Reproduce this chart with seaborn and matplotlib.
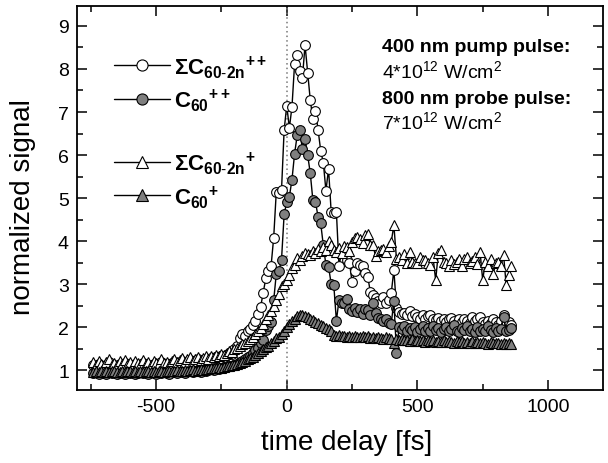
import numpy as np
import pandas as pd
import matplotlib
matplotlib.use("Agg")
import matplotlib.pyplot as plt
from matplotlib.lines import Line2D
from matplotlib.ticker import MultipleLocator
import seaborn as sns

# ---------------- data ----------------
time_fs = list(range(-740, 861, 10))

sum_dication = [  # ΣC60-2n ++ (open circles)
    1.12, 1.08, 1.15, 1.10, 1.05, 1.13, 1.18, 1.09, 1.12, 1.06,
    1.14, 1.10, 1.17, 1.08, 1.12, 1.05, 1.15, 1.11, 1.08, 1.16,
    1.10, 1.13, 1.07, 1.15, 1.12, 1.09, 1.18, 1.11, 1.14, 1.08,
    1.16, 1.20, 1.13, 1.18, 1.22, 1.15, 1.19, 1.24, 1.17, 1.21,
    1.25, 1.18, 1.22, 1.27,
    1.23, 1.28, 1.25, 1.31, 1.27, 1.33, 1.30, 1.36, 1.40, 1.38,
    1.50, 1.55, 1.75, 1.85, 1.80, 1.90, 1.96, 2.05, 2.15, 2.30,
    2.47, 2.80, 3.14, 3.30, 3.42, 4.08, 5.15, 5.12, 5.19, 6.58,
    7.15, 6.63, 7.12, 8.12, 8.33, 7.95, 7.79, 8.56, 7.91, 7.28,
    6.84, 7.03, 6.58, 6.10, 5.82, 5.17, 5.68, 4.68, 4.66, 4.68,
    3.42, 3.75, 3.72, 3.55, 3.50, 3.05, 3.30, 3.49, 3.45, 3.41,
    3.25, 3.17, 2.82, 2.75, 2.68, 2.60, 2.56, 2.71, 2.56, 2.62,
    2.79, 3.33, 2.45, 2.36, 2.30, 2.33, 2.28, 2.38, 2.25, 2.30,
    2.24, 2.20, 2.28, 2.18, 2.25, 2.28, 2.20, 2.17, 2.22, 2.15,
    2.20, 2.12, 2.18, 2.22, 2.15, 2.10, 2.18, 2.12, 2.20, 2.14,
    2.10, 2.24, 2.15, 2.18, 2.24, 2.12, 2.08, 2.15, 2.10, 2.18,
    2.12, 2.05, 2.14, 2.28, 2.08, 2.12, 2.05,
]

c60_dication = [  # C60 ++ (grey circles)
    0.93, 0.95, 0.91, 0.96, 0.94, 0.92, 0.97, 0.93, 0.95, 0.90,
    0.94, 0.96, 0.92, 0.95, 0.93, 0.97, 0.91, 0.94, 0.96, 0.93,
    0.95, 0.92, 0.97, 0.94, 0.90, 0.95, 0.93, 0.96, 0.94, 0.92,
    0.97, 0.95, 0.93, 0.98, 0.96, 0.94, 0.99, 0.97, 0.95, 1.00,
    0.98, 0.96, 1.01, 0.99,
    1.00, 1.02, 1.01, 1.04, 1.03, 1.06, 1.05, 1.08, 1.10, 1.09,
    1.13, 1.15, 1.18, 1.22, 1.25, 1.30, 1.34, 1.40, 1.46, 1.52,
    1.62, 1.70, 1.93, 2.02, 2.12, 2.62, 3.24, 3.30, 3.57, 4.62,
    4.91, 5.03, 5.43, 6.03, 6.46, 6.58, 6.13, 6.38, 6.00, 5.58,
    4.95, 4.91, 4.56, 4.41, 3.90, 3.44, 3.40, 3.01, 2.98, 2.15,
    2.63, 2.56, 2.56, 2.66, 2.43, 2.38, 2.45, 2.35, 2.42, 2.30,
    2.43, 2.40, 2.28, 2.55, 2.33, 2.22, 2.18, 2.15, 2.20, 2.10,
    2.08, 2.61, 1.41, 2.00, 1.95, 2.02, 1.90, 1.98, 1.93, 2.00,
    1.88, 1.95, 2.02, 1.92, 1.97, 1.90, 2.03, 1.93, 1.98, 1.88,
    1.96, 2.00, 1.90, 1.95, 2.05, 1.92, 1.88, 1.98, 1.93, 2.02,
    1.90, 1.95, 1.88, 2.00, 1.92, 1.96, 1.90, 2.03, 1.94, 1.88,
    1.98, 1.92, 1.95, 2.23, 1.90, 1.93, 1.99,
]

sum_cation = [  # ΣC60-2n + (open triangles)
    1.18, 1.12, 1.22, 1.15, 1.10, 1.20, 1.25, 1.13, 1.17, 1.11,
    1.21, 1.15, 1.24, 1.12, 1.18, 1.10, 1.22, 1.16, 1.13, 1.23,
    1.15, 1.19, 1.12, 1.21, 1.17, 1.14, 1.25, 1.16, 1.20, 1.13,
    1.22, 1.26, 1.18, 1.24, 1.28, 1.20, 1.25, 1.30, 1.22, 1.27,
    1.31, 1.23, 1.28, 1.33,
    1.27, 1.33, 1.30, 1.36, 1.32, 1.38, 1.35, 1.41, 1.44, 1.42,
    1.48, 1.52, 1.56, 1.60, 1.63, 1.68, 1.72, 1.78, 1.84, 1.90,
    1.98, 2.08, 2.18, 2.28, 2.38, 2.50, 2.62, 2.78, 2.95, 3.00,
    3.09, 3.22, 3.38, 3.45, 3.60, 3.55, 3.66, 3.73, 3.70, 3.68,
    3.78, 3.72, 3.82, 3.76, 3.86, 3.80, 4.00, 3.92, 3.80, 3.75,
    3.84, 3.72, 3.88, 3.86, 3.78, 3.98, 4.08, 4.10, 4.05, 3.95,
    4.14, 4.16, 3.90, 3.90, 3.65, 3.78, 3.79, 3.82, 3.74, 3.88,
    3.98, 4.37, 3.58, 3.62, 3.55, 3.70, 3.48, 3.75, 3.52, 3.48,
    3.50, 3.62, 3.55, 3.57, 3.50, 3.45, 3.62, 3.09, 3.72, 3.79,
    3.52, 3.48, 3.42, 3.55, 3.47, 3.52, 3.58, 3.43, 3.59, 3.62,
    3.48, 3.53, 3.62, 3.47, 3.75, 3.09, 3.52, 3.42, 3.58, 3.24,
    3.48, 3.52, 3.42, 3.67, 2.97, 3.22, 3.42,
]

c60_cation = [  # C60 + (grey triangles)
    0.96, 0.98, 0.95, 0.97, 0.96, 0.99, 0.95, 0.97, 0.98, 0.96,
    0.95, 0.98, 0.96, 0.97, 0.99, 0.95, 0.97, 0.96, 0.98, 0.95,
    0.97, 0.99, 0.96, 0.98, 0.95, 0.97, 0.99, 0.96, 0.98, 0.97,
    0.99, 0.97, 1.00, 0.98, 0.99, 1.01, 0.98, 1.00, 1.02, 0.99,
    1.01, 1.03, 1.00, 1.02,
    1.03, 1.05, 1.04, 1.06, 1.07, 1.06, 1.08, 1.10, 1.09, 1.11,
    1.13, 1.15, 1.17, 1.19, 1.22, 1.25, 1.28, 1.31, 1.35, 1.39,
    1.44, 1.48, 1.53, 1.57, 1.62, 1.67, 1.74, 1.78, 1.85, 1.92,
    2.00, 2.07, 2.14, 2.20, 2.25, 2.28, 2.29, 2.26, 2.23, 2.20,
    2.17, 2.13, 2.10, 2.06, 2.02, 1.99, 1.95, 1.92, 1.82, 1.80,
    1.81, 1.79, 1.80, 1.78, 1.80, 1.77, 1.79, 1.76, 1.78, 1.80,
    1.77, 1.79, 1.75, 1.77, 1.74, 1.76, 1.75, 1.73, 1.76, 1.74,
    1.72, 1.64, 1.73, 1.70, 1.72, 1.69, 1.71, 1.68, 1.72, 1.67,
    1.70, 1.68, 1.71, 1.66, 1.69, 1.67, 1.70, 1.65, 1.68, 1.66,
    1.69, 1.65, 1.68, 1.66, 1.64, 1.67, 1.65, 1.68, 1.63, 1.66,
    1.64, 1.67, 1.63, 1.65, 1.62, 1.66, 1.64, 1.61, 1.65, 1.63,
    1.62, 1.64, 1.61, 1.63, 1.60, 1.62, 1.61,
]

series_labels = [
    r'${\mathbf{\Sigma C}_{\mathbf{60}\text{-}\mathbf{2n}}}^{\mathbf{++}}$',
    r'${\mathbf{C}_{\mathbf{60}}}^{\mathbf{++}}$',
    r'${\mathbf{\Sigma C}_{\mathbf{60}\text{-}\mathbf{2n}}}^{\mathbf{+}}$',
    r'${\mathbf{C}_{\mathbf{60}}}^{\mathbf{+}}$',
]

x_ticks = [-500, 0, 500, 1000]
y_ticks = [1, 2, 3, 4, 5, 6, 7, 8, 9]

# ---------------- style ----------------
sns.set_theme(style="ticks")
plt.rcParams['font.family'] = ['Liberation Sans', 'DejaVu Sans']
plt.rcParams['mathtext.fontset'] = 'custom'
plt.rcParams['mathtext.rm'] = 'Liberation Sans'
plt.rcParams['mathtext.bf'] = 'Liberation Sans:bold'
plt.rcParams['mathtext.it'] = 'Liberation Sans:italic'
plt.rcParams['axes.linewidth'] = 1.3
plt.rcParams['axes.unicode_minus'] = False
plt.rcParams['text.color'] = 'black'
plt.rcParams['axes.labelcolor'] = 'black'
plt.rcParams['xtick.color'] = 'black'
plt.rcParams['ytick.color'] = 'black'
plt.rcParams['axes.edgecolor'] = 'black'

fig = plt.figure(figsize=(6.08, 4.64), dpi=100)
ax = fig.add_axes([0.127, 0.157, 0.865, 0.828])

ax.axvline(0, color='#777777', linestyle=(0, (1, 2)), linewidth=1.1, zorder=1)

styles = [
    dict(marker='o', mfc='white', ms=7),
    dict(marker='o', mfc='#7f7f7f', ms=7),
    dict(marker='^', mfc='white', ms=7.5),
    dict(marker='^', mfc='#7f7f7f', ms=7.5),
]
data_list = [sum_dication, c60_dication, sum_cation, c60_cation]

handles = []
for vals, st, lab in zip(data_list, styles, series_labels):
    df = pd.DataFrame({'t': time_fs, 'v': vals})
    sns.lineplot(data=df, x='t', y='v', ax=ax, color='black', linewidth=1.0,
                 marker=st['marker'], markersize=st['ms'],
                 markerfacecolor=st['mfc'], markeredgecolor='black',
                 markeredgewidth=0.8, estimator=None, sort=False,
                 legend=False, zorder=3)
    handles.append(Line2D([], [], color='black', linewidth=1.0,
                          marker=st['marker'], markersize=st['ms'] + 1,
                          markerfacecolor=st['mfc'], markeredgecolor='black',
                          markeredgewidth=0.8))

ax.set_xlim(-802, 1211)
ax.set_ylim(0.535, 9.465)
ax.set_xticks(x_ticks)
ax.set_yticks(y_ticks)
ax.xaxis.set_minor_locator(MultipleLocator(250))
ax.yaxis.set_minor_locator(MultipleLocator(0.5))
ax.tick_params(which='both', direction='in', top=True, right=True,
               labelsize=14, width=1.1, colors='black')
ax.tick_params(which='major', length=7, pad=6)
ax.tick_params(which='minor', length=4)

ax.set_xlabel('time delay [fs]', fontsize=20)
ax.xaxis.set_label_coords(0.513, -0.100)
ax.set_ylabel('normalized signal', fontsize=20)
ax.yaxis.set_label_coords(-0.078, 0.48)

leg_kw = dict(frameon=False, fontsize=16, handlelength=2.5,
              handletextpad=0.2, labelspacing=0.3, borderaxespad=0,
              borderpad=0)
leg1 = ax.legend(handles=handles[:2], labels=series_labels[:2],
                 loc='upper left', bbox_to_anchor=(0.07, 0.878), **leg_kw)
ax.add_artist(leg1)
ax.legend(handles=handles[2:], labels=series_labels[2:],
          loc='upper left', bbox_to_anchor=(0.07, 0.627), **leg_kw)

ax.text(0.58, 0.883, '400 nm pump pulse:', transform=ax.transAxes,
        fontsize=14, fontweight='bold', va='baseline')
ax.text(0.58, 0.815, r'4*10$^{12}$ W/cm$^{2}$', transform=ax.transAxes,
        fontsize=14, va='baseline')
ax.text(0.58, 0.747, '800 nm probe pulse:', transform=ax.transAxes,
        fontsize=14, fontweight='bold', va='baseline')
ax.text(0.58, 0.682, r'7*10$^{12}$ W/cm$^{2}$', transform=ax.transAxes,
        fontsize=14, va='baseline')

fig.savefig('out.png', dpi=100)
